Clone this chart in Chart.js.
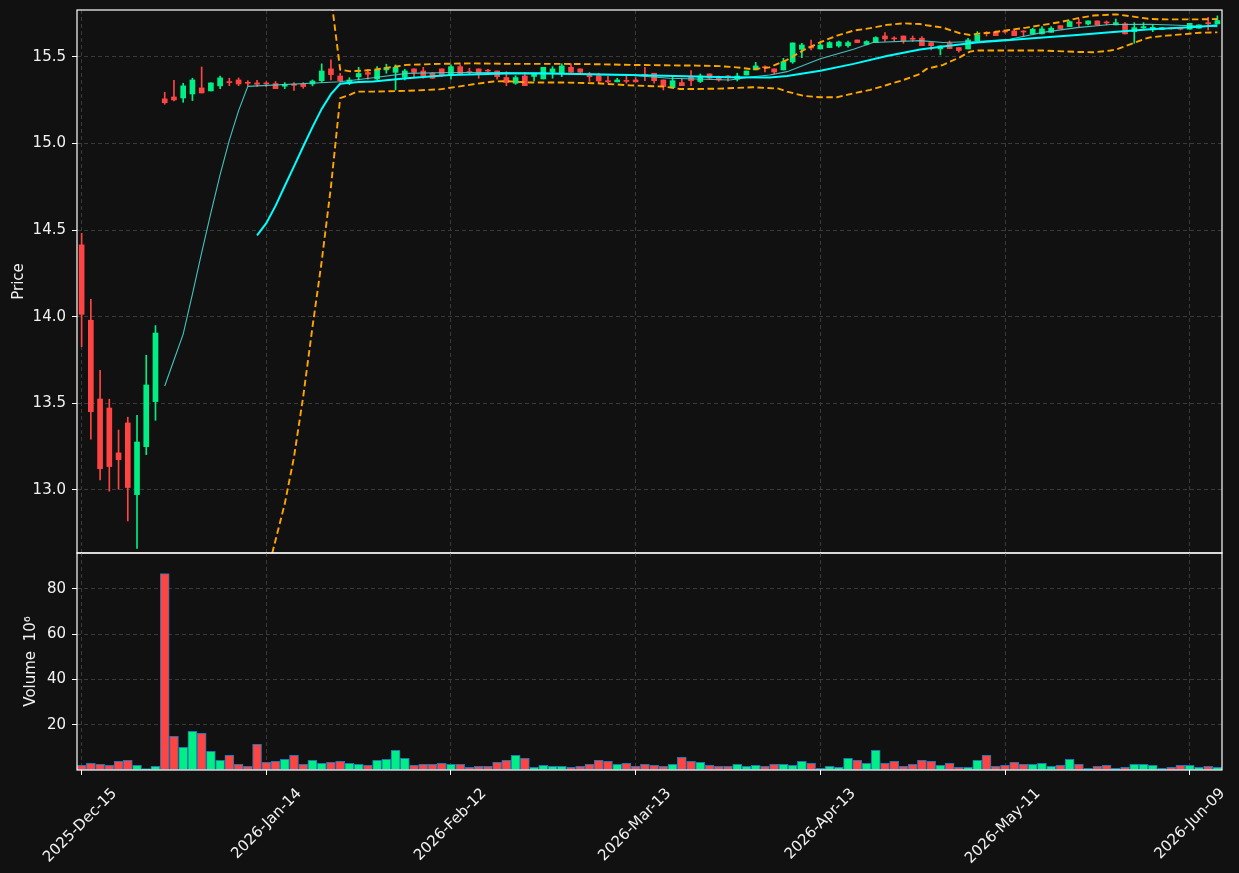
<!DOCTYPE html>
<html lang="en">
<head>
  <meta charset="UTF-8">
  <title>Price and Volume</title>
  <script src="https://cdn.jsdelivr.net/npm/chart.js"></script>
  <style>
    html, body { margin: 0; padding: 0; background: #111111; }
    #wrap { position: relative; width: 1239px; height: 873px; overflow: hidden; }
    canvas { position: absolute; left: 0; }
    #priceChart { top: 0; }
    #volChart { top: 540px; }
  </style>
</head>
<body>
  <div id="wrap">
    <canvas id="priceChart" width="1239" height="560"></canvas>
    <canvas id="volChart" width="1239" height="333"></canvas>
  </div>

  <script>
    // candles, one per trading day (index 0 = 2025-Dec-15)
    const opens = [14.415,13.98,13.525,13.473,13.214,13.387,12.973,13.25,13.51,15.258,
      15.269,15.263,15.286,15.321,15.304,15.333,15.356,15.367,15.352,15.35,
      15.348,15.346,15.331,15.342,15.342,15.344,15.363,15.431,15.39,15.348,
      15.385,15.41,15.373,15.425,15.411,15.383,15.431,15.419,15.406,15.431,
      15.396,15.444,15.415,15.431,15.424,15.419,15.381,15.348,15.39,15.387,
      15.373,15.411,15.406,15.44,15.431,15.40,15.392,15.363,15.356,15.363,
      15.367,15.40,15.406,15.367,15.323,15.352,15.383,15.358,15.402,15.383,
      15.388,15.371,15.396,15.425,15.442,15.431,15.425,15.471,15.544,15.56,
      15.546,15.554,15.563,15.565,15.598,15.573,15.583,15.621,15.608,15.621,
      15.606,15.608,15.583,15.546,15.579,15.554,15.546,15.594,15.64,15.642,
      15.648,15.65,15.648,15.633,15.633,15.642,15.681,15.675,15.698,15.69,
      15.708,15.70,15.685,15.691,15.646,15.668,15.656,15.658,15.665,15.666,
      15.66,15.666,15.698,15.691];
    const highs = [14.482,14.101,13.691,13.524,13.346,13.42,13.431,13.778,13.949,15.296,
      15.365,15.348,15.377,15.442,15.35,15.39,15.377,15.379,15.363,15.365,
      15.357,15.358,15.352,15.352,15.352,15.367,15.46,15.483,15.406,15.38,
      15.44,15.429,15.444,15.458,15.454,15.429,15.431,15.44,15.41,15.431,
      15.454,15.454,15.435,15.431,15.429,15.419,15.415,15.392,15.411,15.406,
      15.44,15.444,15.46,15.46,15.431,15.411,15.406,15.39,15.377,15.39,
      15.381,15.44,15.406,15.367,15.383,15.377,15.421,15.402,15.402,15.39,
      15.392,15.406,15.419,15.469,15.448,15.431,15.492,15.581,15.579,15.598,
      15.585,15.589,15.592,15.592,15.598,15.594,15.617,15.641,15.617,15.621,
      15.621,15.617,15.583,15.564,15.592,15.554,15.608,15.646,15.646,15.65,
      15.652,15.66,15.652,15.666,15.675,15.675,15.681,15.708,15.719,15.708,
      15.708,15.708,15.719,15.698,15.698,15.698,15.685,15.669,15.668,15.666,
      15.694,15.685,15.729,15.737];
    const lows = [13.827,13.293,13.058,12.993,13.004,12.821,12.663,13.204,13.402,15.227,
      15.246,15.238,15.248,15.292,15.304,15.317,15.334,15.334,15.334,15.33,
      15.329,15.317,15.317,15.306,15.319,15.333,15.352,15.367,15.356,15.34,
      15.367,15.371,15.367,15.406,15.309,15.367,15.386,15.377,15.375,15.386,
      15.371,15.398,15.398,15.377,15.402,15.371,15.334,15.342,15.334,15.361,
      15.373,15.377,15.386,15.411,15.406,15.358,15.352,15.352,15.356,15.348,
      15.356,15.363,15.348,15.309,15.323,15.334,15.334,15.352,15.371,15.36,
      15.36,15.361,15.396,15.425,15.413,15.402,15.425,15.463,15.496,15.54,
      15.546,15.554,15.556,15.556,15.583,15.569,15.583,15.589,15.592,15.579,
      15.589,15.565,15.54,15.512,15.548,15.527,15.546,15.594,15.621,15.623,
      15.637,15.623,15.621,15.633,15.633,15.642,15.662,15.675,15.675,15.685,
      15.685,15.685,15.685,15.633,15.579,15.664,15.646,15.658,15.66,15.656,
      15.66,15.666,15.656,15.691];
    const closes = [14.014,13.452,13.123,13.135,13.175,13.014,13.277,13.606,13.906,15.236,
      15.252,15.333,15.367,15.292,15.35,15.379,15.352,15.344,15.348,15.342,
      15.344,15.317,15.342,15.336,15.329,15.361,15.419,15.398,15.363,15.367,
      15.404,15.40,15.423,15.438,15.44,15.419,15.411,15.39,15.377,15.396,
      15.444,15.40,15.41,15.402,15.418,15.386,15.352,15.381,15.334,15.406,
      15.44,15.431,15.448,15.411,15.411,15.386,15.361,15.356,15.367,15.359,
      15.356,15.394,15.363,15.329,15.363,15.334,15.363,15.39,15.377,15.367,
      15.385,15.39,15.419,15.448,15.438,15.413,15.473,15.581,15.569,15.552,
      15.569,15.583,15.587,15.583,15.583,15.589,15.612,15.604,15.604,15.594,
      15.602,15.565,15.565,15.564,15.548,15.537,15.598,15.627,15.635,15.623,
      15.644,15.623,15.644,15.66,15.662,15.666,15.662,15.704,15.694,15.708,
      15.685,15.696,15.698,15.633,15.669,15.675,15.671,15.669,15.662,15.66,
      15.694,15.685,15.691,15.71];

    // volume in millions
    const volumes = [2.1,2.9,2.5,2.1,3.8,4.3,2.1,0.6,1.6,86.8,
      14.9,10.0,17.1,16.2,8.2,4.3,6.5,2.5,1.6,11.3,
      3.4,3.8,4.7,6.5,2.5,4.3,2.9,3.4,3.8,2.9,
      2.5,2.1,4.3,4.7,8.7,5.2,2.1,2.5,2.5,2.9,
      2.5,2.5,1.2,1.6,1.6,3.4,4.3,6.5,5.2,1.2,
      2.1,1.6,1.6,1.2,1.6,2.5,4.3,3.8,2.5,2.9,
      1.6,2.5,2.1,1.6,2.5,5.6,3.8,3.4,2.1,1.6,
      1.6,2.5,1.6,2.1,1.6,2.5,2.5,2.1,3.8,2.9,
      0.7,1.6,1.2,5.2,4.3,2.9,8.7,2.9,3.8,1.6,
      2.5,4.3,3.8,2.1,2.9,1.2,1.2,4.3,6.5,1.6,
      2.1,3.4,2.5,2.5,2.9,1.6,2.1,4.7,2.5,0.7,
      1.6,2.1,0.7,1.2,2.5,2.5,2.1,0.7,1.2,2.1,
      2.1,1.2,1.6,1.2];

    // overlay lines, [index, price]
    const maFast = [[9,13.60],[10,13.75],[11,13.90],[12,14.13],[13,14.37],[14,14.60],[15,14.82],
      [16,15.02],[17,15.19],[18,15.33],[28,15.357],[31.6,15.38],[35.2,15.405],[40,15.41],
      [46,15.41],[49.6,15.405],[59.4,15.394],[63.7,15.377],[70.2,15.367],[72.7,15.386],
      [74.5,15.396],[76.4,15.415],[80,15.49],[83.6,15.544],[85.7,15.583],[90.8,15.594],
      [93.3,15.583],[96.9,15.589],[100.5,15.602],[104.1,15.642],[107.8,15.669],
      [111.4,15.687],[115.7,15.689],[121.1,15.679],[123,15.675]];
    const maSlow = [[19,14.47],[20,14.54],[21,14.64],[22,14.755],[23,14.868],[24,14.983],
      [25,15.095],[26,15.2],[27,15.285],[28,15.345],[30,15.356],[31.6,15.358],[35.2,15.377],
      [39.9,15.396],[46,15.404],[49.6,15.406],[59.4,15.396],[70.2,15.383],[74.5,15.381],
      [76.4,15.39],[80,15.42],[83.6,15.46],[87.2,15.505],[90.8,15.543],[93.3,15.56],
      [96.9,15.583],[100.5,15.598],[104.1,15.612],[107.8,15.627],[111.4,15.642],
      [115.7,15.66],[121.1,15.675],[123,15.683]];
    const bandUpper = [[19,16.64],[20,16.58],[21,16.57],[22,16.59],[23,16.55],[24,16.43],
      [25,16.25],[26,16.08],[27,15.85],[28,15.427],[29.1,15.417],[31.6,15.425],[35.2,15.454],
      [38.8,15.46],[42.4,15.463],[46,15.46],[49.6,15.46],[52.2,15.46],[55.8,15.458],
      [59.4,15.454],[63,15.452],[66.6,15.45],[69.1,15.447],[70.9,15.44],[72.7,15.429],
      [74.5,15.44],[76.4,15.483],[78.2,15.54],[80,15.585],[81.8,15.623],[83.6,15.652],
      [85.4,15.666],[87.2,15.685],[89,15.694],[90.8,15.69],[91.5,15.683],[93.3,15.669],
      [95.1,15.637],[96.2,15.627],[96.9,15.633],[98.7,15.642],[100.5,15.656],[102.3,15.669],
      [104.1,15.685],[105.9,15.7],[107.8,15.723],[109.6,15.739],[111.4,15.744],
      [112.1,15.746],[113.9,15.733],[115.7,15.719],[117.5,15.717],[121.1,15.717],[123,15.719]];
    const bandLower = [[19,12.30],[20,12.50],[21,12.71],[22,12.92],[23,13.19],[24,13.54],
      [25,13.94],[26,14.32],[27,14.75],[28,15.262],[29.1,15.283],[29.8,15.3],[31.6,15.3],
      [35.2,15.304],[38.8,15.313],[42.4,15.342],[44.6,15.358],[46,15.36],[48.6,15.352],
      [52.2,15.352],[55.8,15.348],[59.4,15.336],[63,15.329],[64.8,15.315],[66.6,15.315],
      [69.1,15.317],[72.7,15.325],[75.5,15.317],[76.4,15.3],[78.2,15.275],[80,15.267],
      [81.8,15.267],[83.6,15.29],[85.4,15.31],[87.2,15.338],[89,15.367],[90.8,15.402],
      [91.5,15.431],[93.3,15.454],[95.1,15.498],[96.2,15.531],[96.9,15.537],[100.5,15.537],
      [104.1,15.537],[107.8,15.529],[109.6,15.527],[111.4,15.537],[112.1,15.544],
      [113.9,15.579],[115,15.602],[115.7,15.613],[117.5,15.623],[119.3,15.631],
      [121.1,15.64],[123,15.642]];

    const tickPos = [0, 20, 40, 60, 80, 100, 120];
    const tickLabels = ['2025-Dec-15', '2026-Jan-14', '2026-Feb-12', '2026-Mar-13',
      '2026-Apr-13', '2026-May-11', '2026-Jun-09'];
    const priceTicks = [13.0, 13.5, 14.0, 14.5, 15.0, 15.5];
    const volTicks = [20, 40, 60, 80];

    const UP = '#00ef85';
    const DOWN = '#ff4444';
    const GRID = '#3a3a3a';
    const TEXT = '#f2f2f2';
    const FONT = { family: 'DejaVu Sans', size: 15 };

    const isUp = i => closes[i] >= opens[i];
    const candleColor = ctx => isUp(ctx.dataIndex) ? UP : DOWN;
    const toPoints = arr => arr.map(p => ({ x: p[0], y: p[1] }));

    // white box round each plot area
    const framePlugin = {
      id: 'frame',
      afterDraw(chart) {
        const { ctx, chartArea: a } = chart;
        ctx.save();
        ctx.strokeStyle = '#ffffff';
        ctx.lineWidth = 1.2;
        ctx.strokeRect(a.left, a.top, a.right - a.left, a.bottom - a.top);
        ctx.restore();
      }
    };

    // no label overhang padding, so the plot areas land where the layout says
    function noPad(s) {
      s.paddingTop = 0; s.paddingBottom = 0; s.paddingLeft = 0; s.paddingRight = 0;
    }

    function xAxis(showLabels) {
      return {
        type: 'linear',
        min: -0.5,
        max: 123.5,
        offset: false,
        afterBuildTicks: s => { s.ticks = tickPos.map(v => ({ value: v })); },
        afterFit: s => { s.height = showLabels ? 103 : 0; noPad(s); },
        grid: { color: GRID, offset: false, drawTicks: showLabels, tickLength: 5,
                tickColor: '#ffffff', tickBorderDash: [] },
        border: { display: false, dash: [4, 3] },
        ticks: {
          display: showLabels, color: TEXT, font: FONT, autoSkip: false,
          minRotation: 45, maxRotation: 45, labelOffset: 33, padding: 10,
          callback: (v, i) => tickLabels[i]
        }
      };
    }

    function yAxis(min, max, ticks, fmt, title, titlePad) {
      return {
        min: min,
        max: max,
        afterBuildTicks: s => { s.ticks = ticks.map(v => ({ value: v })); },
        afterFit: s => { s.width = 77; noPad(s); },
        grid: { color: GRID, tickLength: 5, tickColor: '#ffffff', tickBorderDash: [] },
        border: { display: false, dash: [4, 3] },
        ticks: { color: TEXT, font: FONT, padding: 6, callback: fmt },
        title: { display: true, text: title, color: TEXT, font: FONT, padding: { top: titlePad, bottom: 0 } }
      };
    }

    const idx = opens.map((_, i) => i);

    new Chart(document.getElementById('priceChart'), {
      type: 'bar',
      data: {
        datasets: [
          {
            type: 'line', data: toPoints(bandUpper), borderColor: '#ffa500', borderWidth: 1.9,
            borderDash: [6.5, 3.5], pointRadius: 0, order: 1
          },
          {
            type: 'line', data: toPoints(bandLower), borderColor: '#ffa500', borderWidth: 1.9,
            borderDash: [6.5, 3.5], pointRadius: 0, order: 1
          },
          {
            type: 'line', data: toPoints(maSlow), borderColor: '#00ffff', borderWidth: 2,
            pointRadius: 0, order: 1
          },
          {
            type: 'line', data: toPoints(maFast), borderColor: 'rgba(72,214,210,0.9)', borderWidth: 1.1,
            pointRadius: 0, order: 1
          },
          {
            data: idx.map(i => ({ x: i, y: [lows[i], highs[i]] })),
            backgroundColor: candleColor, barThickness: 1, grouped: false, order: 3
          },
          {
            data: idx.map(i => ({ x: i, y: [opens[i], closes[i]] })),
            backgroundColor: candleColor, barThickness: 5, minBarLength: 1, grouped: false, order: 2
          }
        ]
      },
      options: {
        responsive: false,
        animation: false,
        events: [],
        layout: { padding: { top: 10, right: 17, bottom: 7, left: 0 } },
        plugins: { legend: { display: false }, tooltip: { enabled: false } },
        scales: {
          x: xAxis(false),
          y: yAxis(12.636, 15.771, priceTicks, v => v.toFixed(1), 'Price', 10)
        }
      },
      plugins: [framePlugin]
    });

    new Chart(document.getElementById('volChart'), {
      type: 'bar',
      data: {
        datasets: [{
          data: idx.map(i => ({ x: i, y: volumes[i] })),
          backgroundColor: candleColor,
          borderColor: '#1f77b4',
          borderWidth: 1,
          borderSkipped: false,
          barThickness: 9,
          grouped: false
        }]
      },
      options: {
        responsive: false,
        animation: false,
        events: [],
        layout: { padding: { top: 13, right: 17, bottom: 0, left: 0 } },
        plugins: { legend: { display: false }, tooltip: { enabled: false } },
        scales: {
          x: xAxis(true),
          y: yAxis(0, 95.9, volTicks, v => String(v), 'Volume  10\u2076', 22)
        }
      },
      plugins: [framePlugin]
    });
  </script>
</body>
</html>
